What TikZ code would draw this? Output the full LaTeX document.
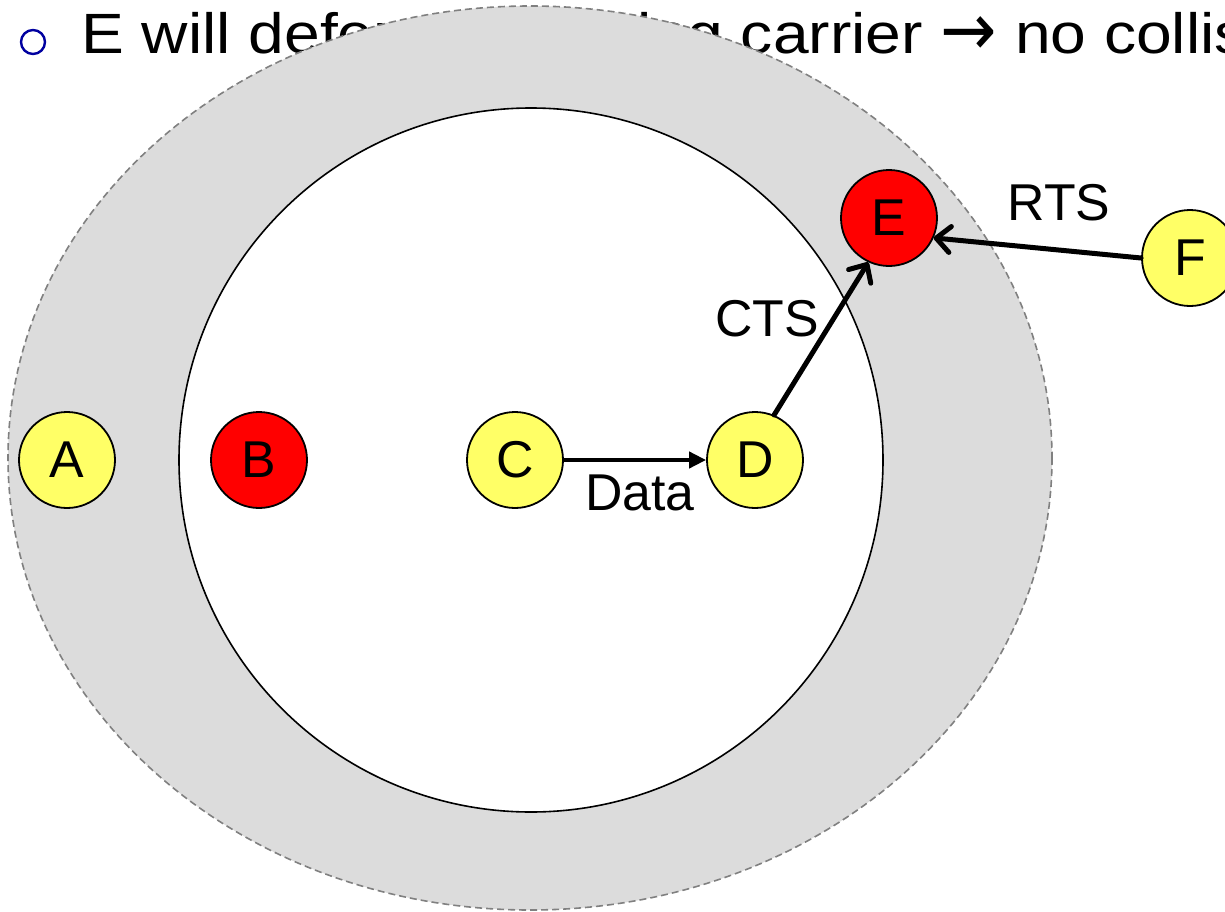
\documentclass[tikz,border=0pt]{standalone}
\usepackage{fontspec}
\setmainfont{Liberation Sans}
\newfontfamily\arrowfont{DejaVu Sans}
\usetikzlibrary{arrows.meta}
\definecolor{nodeyellow}{RGB}{255,255,102}
\definecolor{nodered}{RGB}{255,0,0}
\definecolor{ringgray}{RGB}{220,220,220}
\definecolor{dashgray}{RGB}{128,128,128}
\definecolor{bulletblue}{RGB}{0,0,160}

\begin{document}
\begin{tikzpicture}[x=1bp,y=-1bp,
  station/.style={circle, draw=black, line width=1.8bp, minimum size=96bp,
    inner sep=0pt, font=\fontsize{52}{52}\selectfont},
  idle/.style={station, fill=nodeyellow},
  busy/.style={station, fill=nodered},
  msg/.style={inner sep=0pt, font=\fontsize{52}{52}\selectfont},
  ctrl/.style={line width=5bp, line cap=round,
    -{Straight Barb[length=14bp,width=26bp,line join=round,line cap=round]}},
  datalink/.style={line width=4bp, -{Triangle[length=17bp,width=16bp]}}
]
\useasboundingbox (0,0) rectangle (1225,912);

% bullet line of the slide
\node[circle, draw=bulletblue, line width=2.4bp, minimum size=24bp, inner sep=0pt] (bullet) at (33,42) {};
\node[anchor=base west, inner sep=0pt, font=\fontsize{57}{57}\selectfont] (title) at (81,53)
  {\scalebox{1.13}[1]{E will defer on sensing carrier \raisebox{-2bp}{\scalebox{1.05}[1.3]{\arrowfont →}} no collision}};

% carrier-sense range (gray ring) and transmission range (white disc)
\fill[ringgray] (530,458) ellipse [x radius=522, y radius=452];
\draw[dashgray, line width=1.6bp, dash pattern=on 7bp off 4bp]
  (530,458) ellipse [x radius=522, y radius=452];
\draw[fill=white, line width=1.6bp] (531,460) circle [radius=352];

% stations
\node[idle] (A) at (67,460) {A};
\node[busy] (B) at (259,460) {B};
\node[idle] (C) at (515,460) {C};
\node[idle] (D) at (755,460) {D};
\node[busy] (E) at (889,218) {E};
\node[idle] (F) at (1190,258) {F};

% frames
\draw[datalink] (C.east) -- (D.west);
\draw[ctrl] (D.67) -- (E.245);
\draw[ctrl] (F.west) -- (E.-24);

% frame labels
\node[msg] (datalabel) at (640,493) {Data};
\node[msg] (ctslabel) at (767,319) {CTS};
\node[msg] (rtslabel) at (1059,203) {RTS};
\end{tikzpicture}
\end{document}
